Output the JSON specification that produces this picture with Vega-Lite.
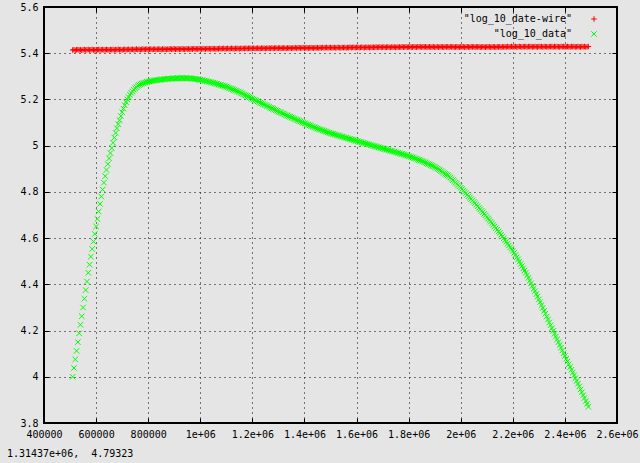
{
"$schema":"https://vega.github.io/schema/vega-lite/v6.json",
"width":573,"height":416,
"autosize":{"type":"none"},
"padding":{"left":44,"top":7,"right":23,"bottom":40},
"background":"#e5e5e5",
"config":{"view":{"stroke":"#000","strokeWidth":2,"fill":null},"font":"DejaVu Sans Mono",
"axis":{"labelFont":"DejaVu Sans Mono","labelFontSize":10,"labelColor":"#000","tickColor":"#000","tickWidth":1,"domain":false,"gridColor":"#000","gridDash":[1,4],"gridOpacity":1,"gridWidth":1,"labelFlush":false,"labelOverlap":false,"labelBound":false,"title":null}},
"title":{"text":"1.31437e+06, \u00a04.79323","orient":"bottom","anchor":"start","frame":"bounds","font":"DejaVu Sans Mono","fontSize":10,"fontWeight":"normal","color":"#000","offset":10,"dx":-13},
"data":{"values":[
{"x":510000,"r":5.414,"g":4.000},{"x":515000,"r":5.415,"g":4.038},{"x":520000,"r":5.413,"g":4.075},{"x":525000,"r":5.415,"g":4.112},{"x":530000,"r":5.416,"g":4.150},
{"x":535000,"r":5.414,"g":4.188},{"x":540000,"r":5.415,"g":4.225},{"x":545000,"r":5.413,"g":4.262},{"x":550000,"r":5.415,"g":4.300},{"x":555000,"r":5.416,"g":4.338},
{"x":560000,"r":5.414,"g":4.375},{"x":565000,"r":5.415,"g":4.412},{"x":570000,"r":5.416,"g":4.450},{"x":575000,"r":5.414,"g":4.485},{"x":580000,"r":5.415,"g":4.520},
{"x":585000,"r":5.416,"g":4.553},{"x":590000,"r":5.414,"g":4.585},{"x":595000,"r":5.415,"g":4.618},{"x":600000,"r":5.413,"g":4.650},{"x":605000,"r":5.415,"g":4.683},
{"x":610000,"r":5.416,"g":4.715},{"x":615000,"r":5.414,"g":4.748},{"x":620000,"r":5.415,"g":4.780},{"x":625000,"r":5.416,"g":4.810},{"x":630000,"r":5.414,"g":4.840},
{"x":635000,"r":5.415,"g":4.868},{"x":640000,"r":5.416,"g":4.895},{"x":645000,"r":5.415,"g":4.920},{"x":650000,"r":5.414,"g":4.945},{"x":655000,"r":5.416,"g":4.968},
{"x":660000,"r":5.415,"g":4.990},{"x":665000,"r":5.416,"g":5.013},{"x":670000,"r":5.414,"g":5.035},{"x":675000,"r":5.416,"g":5.055},{"x":680000,"r":5.415,"g":5.075},
{"x":685000,"r":5.417,"g":5.093},{"x":690000,"r":5.415,"g":5.110},{"x":695000,"r":5.416,"g":5.128},{"x":700000,"r":5.414,"g":5.145},{"x":705000,"r":5.416,"g":5.160},
{"x":710000,"r":5.417,"g":5.175},{"x":715000,"r":5.415,"g":5.188},{"x":720000,"r":5.416,"g":5.200},{"x":725000,"r":5.417,"g":5.210},{"x":730000,"r":5.415,"g":5.220},
{"x":735000,"r":5.416,"g":5.228},{"x":740000,"r":5.417,"g":5.235},{"x":745000,"r":5.415,"g":5.242},{"x":750000,"r":5.416,"g":5.248},{"x":755000,"r":5.418,"g":5.253},
{"x":760000,"r":5.416,"g":5.258},{"x":765000,"r":5.417,"g":5.262},{"x":770000,"r":5.415,"g":5.265},{"x":775000,"r":5.417,"g":5.268},{"x":780000,"r":5.418,"g":5.270},
{"x":785000,"r":5.416,"g":5.272},{"x":790000,"r":5.417,"g":5.274},{"x":795000,"r":5.418,"g":5.276},{"x":800000,"r":5.416,"g":5.277},{"x":805000,"r":5.417,"g":5.278},
{"x":810000,"r":5.418,"g":5.279},{"x":815000,"r":5.416,"g":5.280},{"x":820000,"r":5.417,"g":5.281},{"x":825000,"r":5.418,"g":5.282},{"x":830000,"r":5.416,"g":5.283},
{"x":835000,"r":5.417,"g":5.284},{"x":840000,"r":5.418,"g":5.285},{"x":845000,"r":5.417,"g":5.285},{"x":850000,"r":5.416,"g":5.286},{"x":855000,"r":5.418,"g":5.287},
{"x":860000,"r":5.417,"g":5.287},{"x":865000,"r":5.418,"g":5.288},{"x":870000,"r":5.416,"g":5.289},{"x":875000,"r":5.418,"g":5.289},{"x":880000,"r":5.417,"g":5.290},
{"x":885000,"r":5.419,"g":5.290},{"x":890000,"r":5.417,"g":5.290},{"x":895000,"r":5.418,"g":5.291},{"x":900000,"r":5.419,"g":5.291},{"x":905000,"r":5.417,"g":5.291},
{"x":910000,"r":5.418,"g":5.292},{"x":915000,"r":5.419,"g":5.292},{"x":920000,"r":5.417,"g":5.292},{"x":925000,"r":5.418,"g":5.292},{"x":930000,"r":5.419,"g":5.292},
{"x":935000,"r":5.418,"g":5.292},{"x":940000,"r":5.417,"g":5.292},{"x":945000,"r":5.419,"g":5.292},{"x":950000,"r":5.418,"g":5.292},{"x":955000,"r":5.419,"g":5.292},
{"x":960000,"r":5.417,"g":5.291},{"x":965000,"r":5.419,"g":5.291},{"x":970000,"r":5.418,"g":5.290},{"x":975000,"r":5.420,"g":5.289},{"x":980000,"r":5.418,"g":5.289},
{"x":985000,"r":5.419,"g":5.288},{"x":990000,"r":5.418,"g":5.287},{"x":995000,"r":5.420,"g":5.286},{"x":1000000,"r":5.419,"g":5.285},{"x":1005000,"r":5.418,"g":5.284},
{"x":1010000,"r":5.420,"g":5.283},{"x":1015000,"r":5.419,"g":5.281},{"x":1020000,"r":5.418,"g":5.280},{"x":1025000,"r":5.420,"g":5.279},{"x":1030000,"r":5.419,"g":5.277},
{"x":1035000,"r":5.420,"g":5.276},{"x":1040000,"r":5.418,"g":5.275},{"x":1045000,"r":5.420,"g":5.273},{"x":1050000,"r":5.419,"g":5.272},{"x":1055000,"r":5.420,"g":5.270},
{"x":1060000,"r":5.418,"g":5.268},{"x":1065000,"r":5.420,"g":5.267},{"x":1070000,"r":5.419,"g":5.265},{"x":1075000,"r":5.421,"g":5.263},{"x":1080000,"r":5.419,"g":5.262},
{"x":1085000,"r":5.420,"g":5.260},{"x":1090000,"r":5.421,"g":5.258},{"x":1095000,"r":5.419,"g":5.257},{"x":1100000,"r":5.420,"g":5.255},{"x":1105000,"r":5.421,"g":5.253},
{"x":1110000,"r":5.419,"g":5.250},{"x":1115000,"r":5.420,"g":5.248},{"x":1120000,"r":5.421,"g":5.246},{"x":1125000,"r":5.420,"g":5.244},{"x":1130000,"r":5.419,"g":5.241},
{"x":1135000,"r":5.421,"g":5.239},{"x":1140000,"r":5.420,"g":5.237},{"x":1145000,"r":5.421,"g":5.234},{"x":1150000,"r":5.419,"g":5.232},{"x":1155000,"r":5.421,"g":5.229},
{"x":1160000,"r":5.420,"g":5.226},{"x":1165000,"r":5.421,"g":5.223},{"x":1170000,"r":5.420,"g":5.220},{"x":1175000,"r":5.422,"g":5.218},{"x":1180000,"r":5.420,"g":5.215},
{"x":1185000,"r":5.421,"g":5.212},{"x":1190000,"r":5.422,"g":5.209},{"x":1195000,"r":5.420,"g":5.206},{"x":1200000,"r":5.421,"g":5.203},{"x":1205000,"r":5.422,"g":5.200},
{"x":1210000,"r":5.420,"g":5.197},{"x":1215000,"r":5.421,"g":5.195},{"x":1220000,"r":5.422,"g":5.192},{"x":1225000,"r":5.421,"g":5.189},{"x":1230000,"r":5.420,"g":5.186},
{"x":1235000,"r":5.422,"g":5.183},{"x":1240000,"r":5.421,"g":5.181},{"x":1245000,"r":5.422,"g":5.178},{"x":1250000,"r":5.420,"g":5.175},{"x":1255000,"r":5.422,"g":5.172},
{"x":1260000,"r":5.421,"g":5.170},{"x":1265000,"r":5.422,"g":5.167},{"x":1270000,"r":5.421,"g":5.164},{"x":1275000,"r":5.423,"g":5.162},{"x":1280000,"r":5.421,"g":5.159},
{"x":1285000,"r":5.422,"g":5.156},{"x":1290000,"r":5.423,"g":5.153},{"x":1295000,"r":5.421,"g":5.151},{"x":1300000,"r":5.422,"g":5.148},{"x":1305000,"r":5.423,"g":5.145},
{"x":1310000,"r":5.421,"g":5.143},{"x":1315000,"r":5.422,"g":5.140},{"x":1320000,"r":5.423,"g":5.138},{"x":1325000,"r":5.422,"g":5.135},{"x":1330000,"r":5.421,"g":5.132},
{"x":1335000,"r":5.423,"g":5.130},{"x":1340000,"r":5.422,"g":5.127},{"x":1345000,"r":5.423,"g":5.125},{"x":1350000,"r":5.421,"g":5.122},{"x":1355000,"r":5.423,"g":5.120},
{"x":1360000,"r":5.422,"g":5.117},{"x":1365000,"r":5.424,"g":5.115},{"x":1370000,"r":5.422,"g":5.112},{"x":1375000,"r":5.423,"g":5.110},{"x":1380000,"r":5.424,"g":5.107},
{"x":1385000,"r":5.422,"g":5.105},{"x":1390000,"r":5.423,"g":5.102},{"x":1395000,"r":5.424,"g":5.100},{"x":1400000,"r":5.422,"g":5.097},{"x":1405000,"r":5.423,"g":5.095},
{"x":1410000,"r":5.424,"g":5.092},{"x":1415000,"r":5.422,"g":5.090},{"x":1420000,"r":5.423,"g":5.088},{"x":1425000,"r":5.424,"g":5.086},{"x":1430000,"r":5.423,"g":5.083},
{"x":1435000,"r":5.422,"g":5.081},{"x":1440000,"r":5.424,"g":5.079},{"x":1445000,"r":5.423,"g":5.076},{"x":1450000,"r":5.424,"g":5.074},{"x":1455000,"r":5.422,"g":5.072},
{"x":1460000,"r":5.424,"g":5.070},{"x":1465000,"r":5.423,"g":5.068},{"x":1470000,"r":5.425,"g":5.066},{"x":1475000,"r":5.423,"g":5.064},{"x":1480000,"r":5.424,"g":5.062},
{"x":1485000,"r":5.425,"g":5.060},{"x":1490000,"r":5.423,"g":5.058},{"x":1495000,"r":5.424,"g":5.056},{"x":1500000,"r":5.425,"g":5.054},{"x":1505000,"r":5.423,"g":5.052},
{"x":1510000,"r":5.424,"g":5.051},{"x":1515000,"r":5.425,"g":5.049},{"x":1520000,"r":5.423,"g":5.047},{"x":1525000,"r":5.424,"g":5.045},{"x":1530000,"r":5.425,"g":5.044},
{"x":1535000,"r":5.424,"g":5.042},{"x":1540000,"r":5.423,"g":5.040},{"x":1545000,"r":5.425,"g":5.039},{"x":1550000,"r":5.424,"g":5.037},{"x":1555000,"r":5.425,"g":5.035},
{"x":1560000,"r":5.423,"g":5.034},{"x":1565000,"r":5.425,"g":5.032},{"x":1570000,"r":5.424,"g":5.030},{"x":1575000,"r":5.426,"g":5.029},{"x":1580000,"r":5.424,"g":5.027},
{"x":1585000,"r":5.425,"g":5.026},{"x":1590000,"r":5.426,"g":5.024},{"x":1595000,"r":5.424,"g":5.022},{"x":1600000,"r":5.425,"g":5.021},{"x":1605000,"r":5.426,"g":5.019},
{"x":1610000,"r":5.424,"g":5.017},{"x":1615000,"r":5.425,"g":5.016},{"x":1620000,"r":5.426,"g":5.014},{"x":1625000,"r":5.425,"g":5.012},{"x":1630000,"r":5.424,"g":5.011},
{"x":1635000,"r":5.426,"g":5.009},{"x":1640000,"r":5.425,"g":5.007},{"x":1645000,"r":5.426,"g":5.006},{"x":1650000,"r":5.424,"g":5.004},{"x":1655000,"r":5.426,"g":5.002},
{"x":1660000,"r":5.425,"g":5.001},{"x":1665000,"r":5.426,"g":4.999},{"x":1670000,"r":5.425,"g":4.998},{"x":1675000,"r":5.427,"g":4.996},{"x":1680000,"r":5.425,"g":4.994},
{"x":1685000,"r":5.426,"g":4.993},{"x":1690000,"r":5.427,"g":4.991},{"x":1695000,"r":5.425,"g":4.990},{"x":1700000,"r":5.426,"g":4.988},{"x":1705000,"r":5.427,"g":4.986},
{"x":1710000,"r":5.425,"g":4.985},{"x":1715000,"r":5.426,"g":4.983},{"x":1720000,"r":5.427,"g":4.982},{"x":1725000,"r":5.426,"g":4.980},{"x":1730000,"r":5.425,"g":4.978},
{"x":1735000,"r":5.427,"g":4.977},{"x":1740000,"r":5.426,"g":4.975},{"x":1745000,"r":5.427,"g":4.974},{"x":1750000,"r":5.425,"g":4.972},{"x":1755000,"r":5.427,"g":4.970},
{"x":1760000,"r":5.426,"g":4.969},{"x":1765000,"r":5.427,"g":4.967},{"x":1770000,"r":5.426,"g":4.965},{"x":1775000,"r":5.428,"g":4.964},{"x":1780000,"r":5.426,"g":4.962},
{"x":1785000,"r":5.427,"g":4.960},{"x":1790000,"r":5.428,"g":4.958},{"x":1795000,"r":5.426,"g":4.957},{"x":1800000,"r":5.427,"g":4.955},{"x":1805000,"r":5.428,"g":4.953},
{"x":1810000,"r":5.426,"g":4.951},{"x":1815000,"r":5.427,"g":4.949},{"x":1820000,"r":5.428,"g":4.947},{"x":1825000,"r":5.427,"g":4.945},{"x":1830000,"r":5.426,"g":4.943},
{"x":1835000,"r":5.428,"g":4.940},{"x":1840000,"r":5.427,"g":4.938},{"x":1845000,"r":5.428,"g":4.936},{"x":1850000,"r":5.426,"g":4.934},{"x":1855000,"r":5.428,"g":4.932},
{"x":1860000,"r":5.427,"g":4.929},{"x":1865000,"r":5.428,"g":4.927},{"x":1870000,"r":5.426,"g":4.924},{"x":1875000,"r":5.427,"g":4.921},{"x":1880000,"r":5.428,"g":4.919},
{"x":1885000,"r":5.426,"g":4.916},{"x":1890000,"r":5.427,"g":4.913},{"x":1895000,"r":5.428,"g":4.911},{"x":1900000,"r":5.426,"g":4.908},{"x":1905000,"r":5.427,"g":4.905},
{"x":1910000,"r":5.428,"g":4.901},{"x":1915000,"r":5.426,"g":4.898},{"x":1920000,"r":5.427,"g":4.894},{"x":1925000,"r":5.428,"g":4.890},{"x":1930000,"r":5.427,"g":4.886},
{"x":1935000,"r":5.426,"g":4.882},{"x":1940000,"r":5.428,"g":4.878},{"x":1945000,"r":5.427,"g":4.875},{"x":1950000,"r":5.428,"g":4.872},{"x":1955000,"r":5.426,"g":4.867},
{"x":1960000,"r":5.428,"g":4.862},{"x":1965000,"r":5.427,"g":4.856},{"x":1970000,"r":5.428,"g":4.851},{"x":1975000,"r":5.426,"g":4.846},{"x":1980000,"r":5.427,"g":4.840},
{"x":1985000,"r":5.428,"g":4.835},{"x":1990000,"r":5.427,"g":4.829},{"x":1995000,"r":5.426,"g":4.824},{"x":2000000,"r":5.428,"g":4.818},{"x":2005000,"r":5.427,"g":4.812},
{"x":2010000,"r":5.428,"g":4.806},{"x":2015000,"r":5.426,"g":4.800},{"x":2020000,"r":5.427,"g":4.794},{"x":2025000,"r":5.428,"g":4.788},{"x":2030000,"r":5.427,"g":4.781},
{"x":2035000,"r":5.426,"g":4.775},{"x":2040000,"r":5.428,"g":4.769},{"x":2045000,"r":5.427,"g":4.763},{"x":2050000,"r":5.428,"g":4.757},{"x":2055000,"r":5.426,"g":4.751},
{"x":2060000,"r":5.428,"g":4.744},{"x":2065000,"r":5.427,"g":4.738},{"x":2070000,"r":5.428,"g":4.731},{"x":2075000,"r":5.426,"g":4.725},{"x":2080000,"r":5.427,"g":4.718},
{"x":2085000,"r":5.428,"g":4.712},{"x":2090000,"r":5.427,"g":4.705},{"x":2095000,"r":5.426,"g":4.699},{"x":2100000,"r":5.428,"g":4.692},{"x":2105000,"r":5.427,"g":4.685},
{"x":2110000,"r":5.428,"g":4.678},{"x":2115000,"r":5.426,"g":4.671},{"x":2120000,"r":5.427,"g":4.664},{"x":2125000,"r":5.428,"g":4.657},{"x":2130000,"r":5.427,"g":4.650},
{"x":2135000,"r":5.426,"g":4.643},{"x":2140000,"r":5.428,"g":4.636},{"x":2145000,"r":5.427,"g":4.629},{"x":2150000,"r":5.428,"g":4.622},{"x":2155000,"r":5.426,"g":4.614},
{"x":2160000,"r":5.428,"g":4.607},{"x":2165000,"r":5.427,"g":4.599},{"x":2170000,"r":5.428,"g":4.591},{"x":2175000,"r":5.427,"g":4.584},{"x":2180000,"r":5.429,"g":4.576},
{"x":2185000,"r":5.427,"g":4.568},{"x":2190000,"r":5.428,"g":4.560},{"x":2195000,"r":5.429,"g":4.553},{"x":2200000,"r":5.427,"g":4.545},{"x":2205000,"r":5.428,"g":4.536},
{"x":2210000,"r":5.429,"g":4.527},{"x":2215000,"r":5.427,"g":4.517},{"x":2220000,"r":5.428,"g":4.508},{"x":2225000,"r":5.429,"g":4.498},{"x":2230000,"r":5.428,"g":4.488},
{"x":2235000,"r":5.427,"g":4.479},{"x":2240000,"r":5.429,"g":4.469},{"x":2245000,"r":5.428,"g":4.460},{"x":2250000,"r":5.429,"g":4.450},{"x":2255000,"r":5.427,"g":4.439},
{"x":2260000,"r":5.429,"g":4.428},{"x":2265000,"r":5.428,"g":4.416},{"x":2270000,"r":5.429,"g":4.404},{"x":2275000,"r":5.427,"g":4.393},{"x":2280000,"r":5.428,"g":4.381},
{"x":2285000,"r":5.429,"g":4.370},{"x":2290000,"r":5.428,"g":4.358},{"x":2295000,"r":5.427,"g":4.347},{"x":2300000,"r":5.429,"g":4.335},{"x":2305000,"r":5.428,"g":4.323},
{"x":2310000,"r":5.429,"g":4.310},{"x":2315000,"r":5.427,"g":4.298},{"x":2320000,"r":5.428,"g":4.285},{"x":2325000,"r":5.429,"g":4.273},{"x":2330000,"r":5.428,"g":4.260},
{"x":2335000,"r":5.427,"g":4.248},{"x":2340000,"r":5.429,"g":4.235},{"x":2345000,"r":5.428,"g":4.223},{"x":2350000,"r":5.429,"g":4.210},{"x":2355000,"r":5.427,"g":4.198},
{"x":2360000,"r":5.429,"g":4.186},{"x":2365000,"r":5.428,"g":4.174},{"x":2370000,"r":5.429,"g":4.162},{"x":2375000,"r":5.428,"g":4.150},{"x":2380000,"r":5.427,"g":4.138},
{"x":2385000,"r":5.429,"g":4.126},{"x":2390000,"r":5.428,"g":4.114},{"x":2395000,"r":5.429,"g":4.102},{"x":2400000,"r":5.427,"g":4.090},{"x":2405000,"r":5.428,"g":4.078},
{"x":2410000,"r":5.429,"g":4.066},{"x":2415000,"r":5.428,"g":4.054},{"x":2420000,"r":5.427,"g":4.042},{"x":2425000,"r":5.429,"g":4.030},{"x":2430000,"r":5.428,"g":4.018},
{"x":2435000,"r":5.429,"g":4.006},{"x":2440000,"r":5.427,"g":3.994},{"x":2445000,"r":5.428,"g":3.982},{"x":2450000,"r":5.429,"g":3.970},{"x":2455000,"r":5.428,"g":3.958},
{"x":2460000,"r":5.427,"g":3.945},{"x":2465000,"r":5.429,"g":3.933},{"x":2470000,"r":5.428,"g":3.920},{"x":2475000,"r":5.429,"g":3.908},{"x":2480000,"r":5.427,"g":3.895},
{"x":2485000,"r":5.428,"g":3.883},{"x":2490000,"r":5.429,"g":3.870}
]},
"transform":[{"fold":["r","g"],"as":["series","value"]}],
"layer":[
{"mark":{"type":"point","filled":false,"strokeWidth":1,"size":30,"opacity":1},
"encoding":{
"x":{"field":"x","type":"quantitative","scale":{"domain":[400000,2600000],"nice":false,"zero":false},
"axis":{"orient":"bottom","values":[400000,600000,800000,1000000,1200000,1400000,1600000,1800000,2000000,2200000,2400000,2600000],"labelExpr":"datum.value < 1000000 ? format(datum.value, 'd') : replace(format(datum.value, '.2~e'), 'e+', 'e+0')","grid":true,"tickSize":-5,"labelPadding":11}},
"y":{"field":"value","type":"quantitative","scale":{"domain":[3.8,5.6],"nice":false,"zero":false},
"axis":{"orient":"left","values":[3.8,4,4.2,4.4,4.6,4.8,5,5.2,5.4,5.6],"labelExpr":"format(datum.value, '.2~g')","grid":true,"tickSize":-5,"labelPadding":11}},
"color":{"field":"series","type":"nominal","scale":{"domain":["r","g"],"range":["#ff0000","#00ff00"]},
"legend":{"orient":"none","legendX":545,"legendY":7,"title":null,"padding":0,"labelFont":"DejaVu Sans Mono","labelFontSize":10,"labelColor":"#000","labelAlign":"right","labelOffset":-27,"symbolSize":30,"symbolStrokeWidth":1,"rowPadding":5,"labelExpr":"datum.label == 'r' ? '\"log_10_date-wire\"' : '\"log_10_data\"'"}},
"shape":{"field":"series","type":"nominal","scale":{"domain":["r","g"],"range":["M-1,0L1,0M0,-1L0,1","M-1,-1L1,1M-1,1L1,-1"]},
"legend":{"orient":"none","legendX":545,"legendY":7,"title":null,"padding":0,"labelFont":"DejaVu Sans Mono","labelFontSize":10,"labelColor":"#000","labelAlign":"right","labelOffset":-27,"symbolSize":30,"symbolStrokeWidth":1,"rowPadding":5,"labelExpr":"datum.label == 'r' ? '\"log_10_date-wire\"' : '\"log_10_data\"'"}}
}},
{"mark":{"type":"point","opacity":0},
"encoding":{
"x":{"field":"x","type":"quantitative","axis":{"orient":"top","values":[400000,600000,800000,1000000,1200000,1400000,1600000,1800000,2000000,2200000,2400000,2600000],"labels":false,"grid":false,"tickSize":-5}},
"y":{"field":"value","type":"quantitative","axis":{"orient":"right","values":[3.8,4,4.2,4.4,4.6,4.8,5,5.2,5.4,5.6],"labels":false,"grid":false,"tickSize":-5}}
}}
],
"resolve":{"axis":{"x":"independent","y":"independent"}}
}
